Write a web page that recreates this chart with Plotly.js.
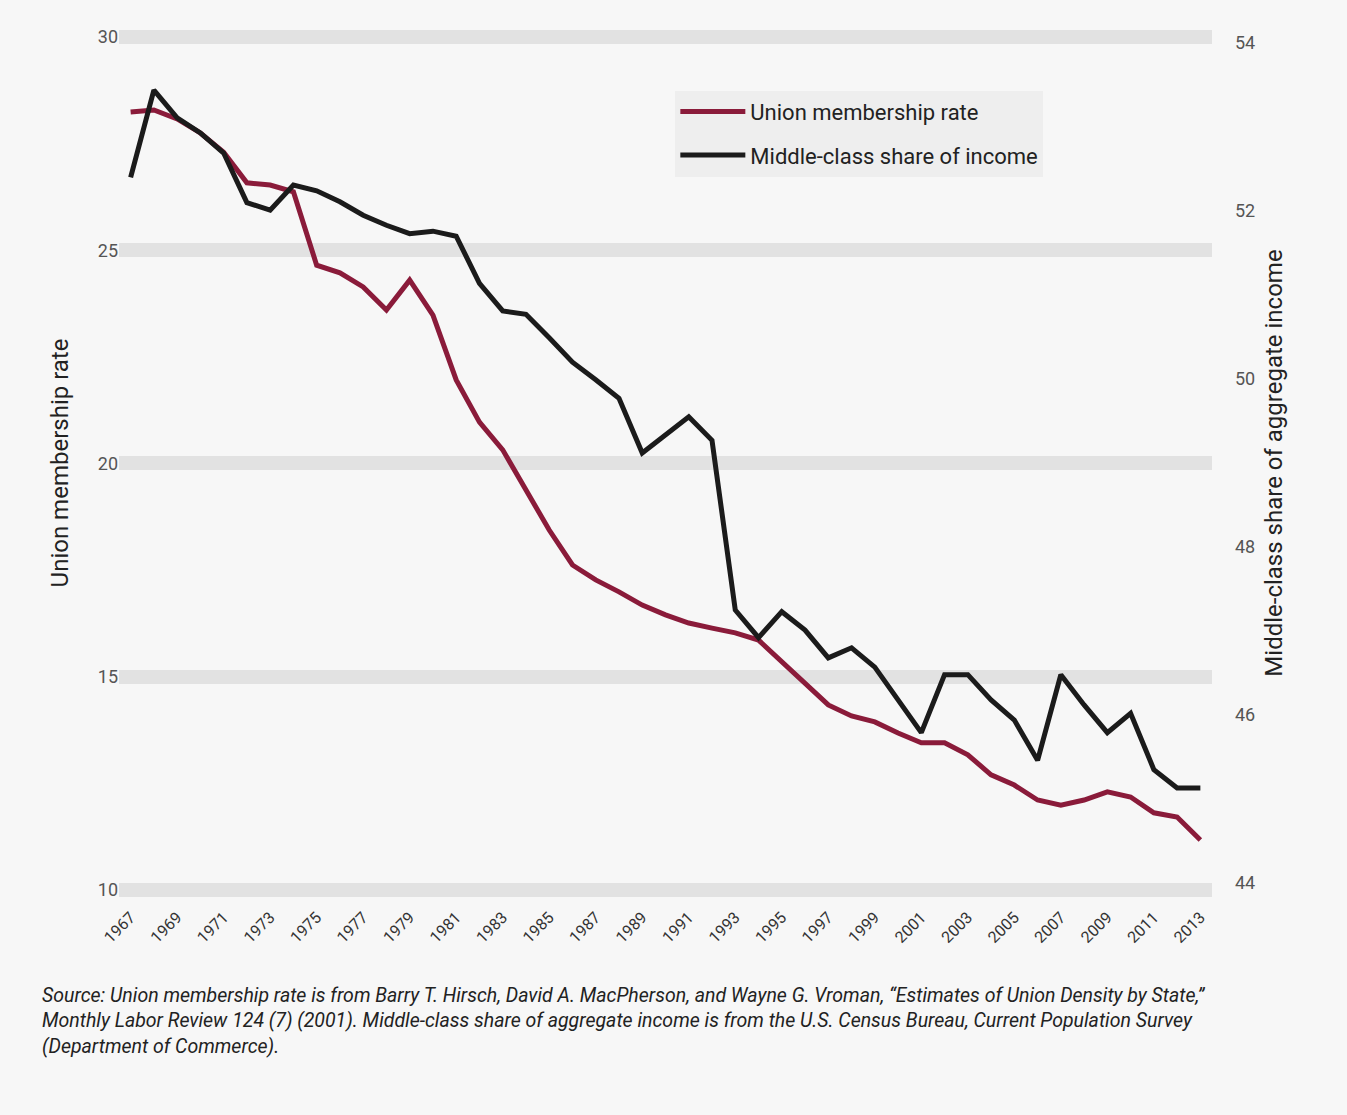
<!DOCTYPE html>
<html>
<head>
<meta charset="utf-8">
<script src="https://cdn.plot.ly/plotly-3.0.1.min.js"></script>
<style>
  html, body { margin: 0; padding: 0; background: #f7f7f7; }
  #chart { width: 1347px; height: 1115px; }
</style>
</head>
<body>
<div id="chart"></div>
<script>
// ---- Data ----
const years = [];
for (let y = 1967; y <= 2013; y++) years.push(y);

const unionRate = [
  28.24, 28.29, 28.08, 27.75, 27.30, 26.58, 26.53, 26.37, 24.65, 24.47,
  24.14, 23.60, 24.30, 23.48, 21.96, 20.97, 20.32, 19.38, 18.44, 17.62,
  17.27, 16.99, 16.68, 16.45, 16.26, 16.14, 16.03, 15.86, 15.35, 14.85,
  14.34, 14.08, 13.94, 13.68, 13.45, 13.45, 13.17, 12.70, 12.46, 12.11,
  11.99, 12.11, 12.30, 12.18, 11.81, 11.71, 11.17
];

const middleClassShare = [
  52.40, 53.44, 53.11, 52.93, 52.69, 52.10, 52.01, 52.31, 52.24, 52.11,
  51.95, 51.83, 51.73, 51.76, 51.70, 51.14, 50.81, 50.77, 50.49, 50.20,
  49.99, 49.77, 49.12, 49.33, 49.55, 49.27, 47.25, 46.92, 47.23, 47.01,
  46.68, 46.80, 46.57, 46.18, 45.79, 46.48, 46.48, 46.18, 45.94, 45.46,
  46.48, 46.12, 45.79, 46.02, 45.35, 45.13, 45.13
];

const xTickYears = [1967, 1969, 1971, 1973, 1975, 1977, 1979, 1981, 1983, 1985, 1987, 1989,
  1991, 1993, 1995, 1997, 1999, 2001, 2003, 2005, 2007, 2009, 2011, 2013];
const leftTicks = [10, 15, 20, 25, 30];
const rightTicks = [44, 46, 48, 50, 52, 54];

const seriesNames = ["Union membership rate", "Middle-class share of income"];
const leftTitle = "Union membership rate";
const rightTitle = "Middle-class share of aggregate income";
const sourceNote = [
  "Source: Union membership rate is from Barry T. Hirsch, David A. MacPherson, and Wayne G. Vroman, \u201cEstimates of Union Density by State,\u201d",
  "Monthly Labor Review 124 (7) (2001). Middle-class share of aggregate income is from the U.S. Census Bureau, Current Population Survey",
  "(Department of Commerce)."
];

// ---- Styling ----
const FONT = "'Liberation Sans Narrow', 'Roboto', sans-serif";
const RED = "#8a1b3a";
const BLACK = "#1b1b1b";

const traces = [
  {
    x: years, y: unionRate, name: seriesNames[0], type: "scatter", mode: "lines",
    line: { color: RED, width: 5 }, yaxis: "y", legendgroup: "a"
  },
  {
    x: years, y: middleClassShare, name: seriesNames[1], type: "scatter", mode: "lines",
    line: { color: BLACK, width: 5 }, yaxis: "y2", legendgroup: "b"
  }
];

const layout = {
  width: 1347, height: 1115,
  paper_bgcolor: "#f7f7f7", plot_bgcolor: "#f7f7f7",
  margin: { l: 119, r: 135, t: 30, b: 219 },
  font: { family: FONT, color: "#333" },
  showlegend: true,
  legend: {
    x: 0.509, y: 0.93, xanchor: "left", yanchor: "top",
    bgcolor: "#eeeeee", borderwidth: 0,
    font: { size: 22, family: FONT, color: "#222" },
    traceorder: "grouped", tracegroupgap: 12,
    itemwidth: 65
  },
  xaxis: {
    range: [1966.5, 2013.5],
    tickmode: "array", tickvals: xTickYears, ticktext: xTickYears.map(String),
    tickangle: -45, tickfont: { size: 16, family: FONT, color: "#333" },
    ticklabelstandoff: 8,
    showgrid: false, zeroline: false, showline: false, ticks: ""
  },
  yaxis: {
    range: [9.859, 30.164],
    tickmode: "array", tickvals: leftTicks, ticktext: leftTicks.map(String),
    tickfont: { size: 18, family: FONT, color: "#555" },
    showgrid: true, gridcolor: "#e2e2e2", gridwidth: 14,
    zeroline: false, showline: false, ticks: "",
    title: { text: leftTitle, font: { size: 24, family: FONT, color: "#222" }, standoff: 22 }
  },
  yaxis2: {
    range: [43.845, 54.155], overlaying: "y", side: "right",
    tickmode: "array", tickvals: rightTicks, ticktext: rightTicks.map(String),
    tickfont: { size: 18, family: FONT, color: "#555" },
    showgrid: false, zeroline: false, showline: false, ticks: "",
    ticklabelstandoff: 22,
    title: { text: rightTitle, font: { size: 24, family: FONT, color: "#222" }, standoff: 10 }
  },
  annotations: [
    {
      xref: "paper", yref: "paper", x: -0.072, y: -0.099,
      xanchor: "left", yanchor: "top", align: "left", showarrow: false,
      text: "<i>" + sourceNote.join("<br>") + "</i>",
      font: { size: 19.5, family: FONT, color: "#222" }
    }
  ]
};

Plotly.newPlot("chart", traces, layout, { displayModeBar: false, staticPlot: true });
</script>
</body>
</html>
